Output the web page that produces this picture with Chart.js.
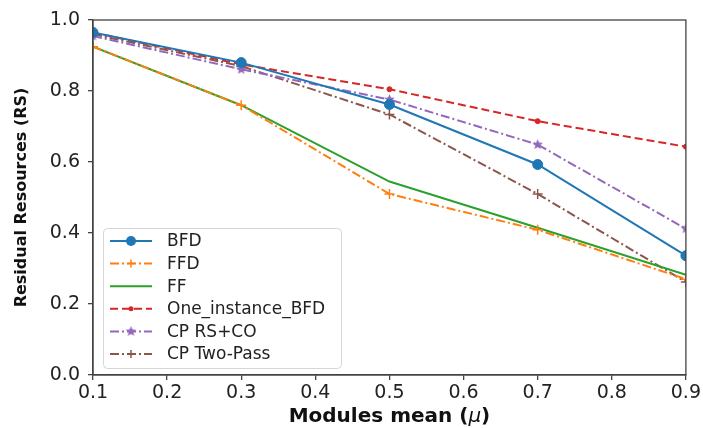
<!DOCTYPE html>
<html><head><meta charset="utf-8">
<script src="https://cdn.jsdelivr.net/npm/chart.js@4/dist/chart.umd.min.js"></script>
<style>html,body{margin:0;padding:0;background:#fff}#wrap{width:703px;height:428px}</style>
</head><body><div id="wrap"><canvas id="c"></canvas></div>
<script>
const xValues = [0.1, 0.3, 0.5, 0.7, 0.9];
const xTickLabels = ['0.1','0.2','0.3','0.4','0.5','0.6','0.7','0.8','0.9'];
const yTickLabels = ['0.0','0.2','0.4','0.6','0.8','1.0'];
const seriesNames = ['BFD','FFD','FF','One_instance_BFD','CP RS+CO','CP Two-Pass'];
const bfd      = [0.965, 0.880, 0.762, 0.593, 0.336];
const ffd      = [0.925, 0.760, 0.510, 0.409, 0.270];
const ff       = [0.925, 0.760, 0.545, 0.415, 0.282];
const oneInst  = [0.965, 0.875, 0.805, 0.715, 0.643];
const cpRsCo   = [0.955, 0.861, 0.776, 0.649, 0.412];
const cpTwo    = [0.960, 0.870, 0.734, 0.510, 0.262];

function starCanvas(color, r) {
  const s = Math.ceil(r * 2 + 2), c = document.createElement('canvas');
  c.width = s; c.height = s;
  const g = c.getContext('2d');
  g.fillStyle = color; g.beginPath();
  for (let i = 0; i < 10; i++) {
    const a = -Math.PI / 2 + i * Math.PI / 5, rr = i % 2 ? r * 0.45 : r;
    g.lineTo(s / 2 + rr * Math.cos(a), s / 2 + rr * Math.sin(a));
  }
  g.closePath(); g.fill();
  return c;
}

const C = {blue:'#1f77b4', orange:'#ff7f0e', green:'#2ca02c', red:'#d62728', purple:'#9467bd', brown:'#8c564b'};
const dashDot = [9, 3, 2, 3];
const star = starCanvas(C.purple, 5.5);

function pts(arr) { return arr.map((v, i) => ({x: xValues[i], y: v})); }

const styles = [
  {color:C.blue,   dash:[],      pointStyle:'circle', radius:5,   mk:'circle'},
  {color:C.orange, dash:dashDot, pointStyle:'cross',  radius:5,   mk:'cross'},
  {color:C.green,  dash:[],      pointStyle:'circle', radius:0,   mk:'none'},
  {color:C.red,    dash:[8,4],   pointStyle:'circle', radius:2.5, mk:'dot'},
  {color:C.purple, dash:dashDot, pointStyle:star,     radius:5.5, mk:'star'},
  {color:C.brown,  dash:dashDot, pointStyle:'cross',  radius:5,   mk:'cross'}
];
const seriesData = [bfd, ffd, ff, oneInst, cpRsCo, cpTwo];

const datasets = seriesData.map((d, i) => ({
  label: seriesNames[i],
  data: pts(d),
  borderColor: styles[i].color,
  backgroundColor: styles[i].color,
  borderWidth: 2,
  borderDash: styles[i].dash,
  pointStyle: styles[i].pointStyle,
  pointRadius: styles[i].radius,
  pointBorderWidth: styles[i].mk === 'cross' ? 1.5 : 1,
  pointBorderColor: styles[i].color,
  pointBackgroundColor: styles[i].color,
  tension: 0,
  clip: 0
}));

const framePlugin = {
  id: 'frame',
  afterDatasetsDraw(chart) {
    const {ctx, chartArea: a} = chart;
    ctx.save();
    ctx.strokeStyle = '#444'; ctx.lineWidth = 1.3;
    ctx.strokeRect(a.left, a.top, a.right - a.left, a.bottom - a.top);
    ctx.restore();
  }
};

const titlePlugin = {
  id: 'xtitle',
  afterDraw(chart) {
    const {ctx, chartArea: a} = chart;
    const parts = [
      {t:'Modules mean (', f:'bold 20px "DejaVu Sans"'},
      {t:'\u03bc', f:'italic 20px "DejaVu Sans"'},
      {t:')', f:'bold 20px "DejaVu Sans"'}
    ];
    ctx.save();
    let w = 0;
    parts.forEach(p => { ctx.font = p.f; p.w = ctx.measureText(p.t).width; w += p.w; });
    let x = (a.left + a.right) / 2 - w / 2;
    ctx.fillStyle = '#111'; ctx.textBaseline = 'alphabetic';
    parts.forEach(p => { ctx.font = p.f; ctx.fillText(p.t, x, 422); x += p.w; });
    ctx.restore();
  }
};

const legendPlugin = {
  id: 'mplLegend',
  afterDraw(chart) {
    const {ctx} = chart;
    const bx = 103, by = 228, bw = 238, bh = 140, r = 4;
    ctx.save();
    ctx.fillStyle = 'rgba(255,255,255,0.85)';
    ctx.strokeStyle = '#d6d6d6'; ctx.lineWidth = 1;
    ctx.beginPath();
    ctx.roundRect(bx + 0.5, by + 0.5, bw, bh, r);
    ctx.fill(); ctx.stroke();
    const rowY0 = 241, rowH = 22.6;
    chart.data.datasets.forEach((ds, i) => {
      const y = rowY0 + i * rowH, st = styles[i];
      ctx.strokeStyle = st.color; ctx.lineWidth = 2;
      ctx.setLineDash(st.dash);
      ctx.beginPath(); ctx.moveTo(110, y); ctx.lineTo(152, y); ctx.stroke();
      ctx.setLineDash([]);
      const mx = 131;
      ctx.fillStyle = st.color;
      if (st.mk === 'circle') { ctx.beginPath(); ctx.arc(mx, y, 5, 0, Math.PI * 2); ctx.fill(); }
      else if (st.mk === 'dot') { ctx.beginPath(); ctx.arc(mx, y, 2.5, 0, Math.PI * 2); ctx.fill(); }
      else if (st.mk === 'cross') { ctx.lineWidth = 1.5; ctx.beginPath(); ctx.moveTo(mx - 4, y); ctx.lineTo(mx + 4, y); ctx.moveTo(mx, y - 4); ctx.lineTo(mx, y + 4); ctx.stroke(); }
      else if (st.mk === 'star') { ctx.drawImage(star, mx - star.width / 2, y - star.height / 2); }
      ctx.fillStyle = '#222'; ctx.font = '17px "DejaVu Sans"'; ctx.textBaseline = 'middle';
      ctx.fillText(ds.label, 167, y + 1);
    });
    ctx.restore();
  }
};

new Chart(document.getElementById('c'), {
  type: 'line',
  data: {datasets},
  options: {
    responsive: true, maintainAspectRatio: false, animation: false,
    layout: {padding: {top: 20, right: 17, left: 0, bottom: 0}},
    plugins: {legend: {display: false}, tooltip: {enabled: false}},
    scales: {
      x: {
        type: 'linear', min: 0.1, max: 0.9,
        afterBuildTicks(s) { s.ticks = xTickLabels.map(t => ({value: parseFloat(t)})); },
        afterFit(s) { s.height = 53; },
        ticks: {callback: (v) => Number(v).toFixed(1), font: {family: 'DejaVu Sans', size: 19}, color: '#222', padding: 2, maxRotation: 0, autoSkip: false},
        grid: {drawOnChartArea: false, drawTicks: true, tickLength: 5, color: '#444', lineWidth: 1.3},
        border: {color: '#444', width: 1.3}
      },
      y: {
        min: 0, max: 1,
        afterBuildTicks(s) { s.ticks = yTickLabels.map(t => ({value: parseFloat(t)})); },
        afterFit(s) { s.width = 93; },
        ticks: {callback: (v) => Number(v).toFixed(1), font: {family: 'DejaVu Sans', size: 19}, color: '#222', padding: 8},
        grid: {drawOnChartArea: false, drawTicks: true, tickLength: 5, color: '#444', lineWidth: 1.3},
        border: {color: '#444', width: 1.3},
        title: {display: true, text: 'Residual Resources (RS)', font: {family: 'DejaVu Sans', size: 16, weight: 'bold'}, color: '#111', padding: {top: 12, bottom: 4}}
      }
    }
  },
  plugins: [framePlugin, titlePlugin, legendPlugin]
});
</script>
</body></html>
